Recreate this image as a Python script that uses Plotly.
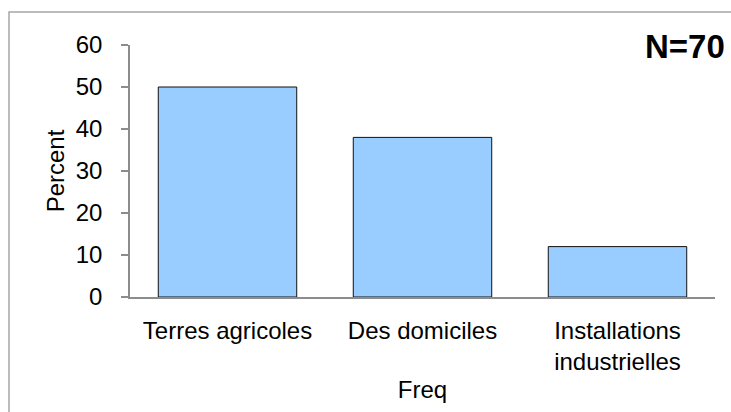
import plotly.graph_objects as go

categories = ["Terres agricoles", "Des domiciles", "Installations<br>industrielles"]
percent = [50, 38, 12]
y_ticks = [0, 10, 20, 30, 40, 50, 60]
n_label = "N=70"

W, H = 731, 412
L, R, T, B = 130, 16, 45, 115
pw, ph = W - L - R, H - T - B

def px_to_paper_x(px):
    return (px - L) / pw

def px_to_paper_y(py):
    return (H - B - py) / ph

FONT = "Liberation Sans, Arial, sans-serif"

fig = go.Figure(go.Bar(
    x=categories, y=percent,
    marker=dict(color="#99CCFF", line=dict(color="#111111", width=1)),
))

fig.update_layout(
    width=W, height=H,
    margin=dict(l=L, r=R, t=T, b=B, autoexpand=False),
    paper_bgcolor="white", plot_bgcolor="white",
    bargap=0.29,
    showlegend=False,
    font=dict(family=FONT, size=24, color="black"),
    xaxis=dict(
        showline=True, linecolor="#8c8c8c", linewidth=1.5,
        ticks="", showgrid=False, zeroline=False,
        ticklabelstandoff=11,
        title=dict(text="Freq", standoff=7, font=dict(size=24)),
        automargin=False,
    ),
    yaxis=dict(
        range=[0, 60], tickvals=y_ticks,
        showline=True, linecolor="#8c8c8c", linewidth=1.5,
        ticks="outside", ticklen=7, tickcolor="#8c8c8c", tickwidth=1.5,
        showgrid=False, zeroline=False,
        ticklabelstandoff=14,
        title=dict(text="Percent", standoff=4, font=dict(size=24)),
        automargin=False,
    ),
    annotations=[dict(
        text="<b>" + n_label + "</b>", xref="paper", yref="paper",
        x=px_to_paper_x(727), y=px_to_paper_y(46),
        xanchor="right", yanchor="middle", showarrow=False,
        font=dict(family=FONT, size=33, color="black"),
    )],
    shapes=[dict(
        type="rect", xref="paper", yref="paper",
        x0=px_to_paper_x(9), x1=px_to_paper_x(760),
        y0=px_to_paper_y(440), y1=px_to_paper_y(12),
        line=dict(color="#a6a6a6", width=1.5), fillcolor="rgba(0,0,0,0)",
        layer="below",
    )],
)

fig.write_html(
    "out.html",
    config={"displayModeBar": False},
    post_script="document.body.style.margin='0';document.body.style.overflow='hidden';",
)
